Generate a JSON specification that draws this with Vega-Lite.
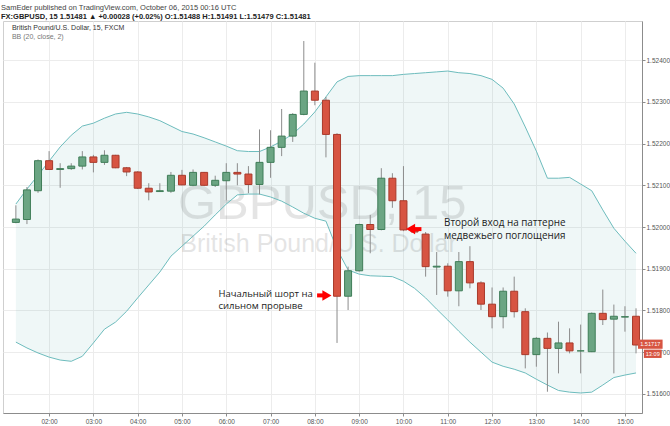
{
  "$schema": "https://vega.github.io/schema/vega-lite/v6.json",
  "width": 639,
  "height": 392,
  "autosize": {"type": "none"},
  "padding": {"left": 3, "top": 21, "right": 28, "bottom": 13},
  "background": "white",
  "title": {
    "text": "SamEder published on TradingView.com, October 06, 2015 00:16 UTC",
    "subtitle": "FX:GBPUSD, 15  1.51481 ▲ +0.00028 (+0.02%)  O:1.51488  H:1.51491  L:1.51479  C:1.51481",
    "anchor": "start",
    "frame": "group",
    "font": "Liberation Sans",
    "fontSize": 7.5,
    "fontWeight": "normal",
    "color": "#444444",
    "subtitleFont": "Liberation Sans",
    "subtitleFontSize": 7.5,
    "subtitleFontWeight": "bold",
    "subtitleColor": "#222222",
    "subtitlePadding": 1,
    "offset": 1,
    "dx": -2
  },
  "config": {
    "view": {"stroke": "#cfcfcf"},
    "font": "Liberation Sans"
  },
  "datasets": {
    "candles": [
      {"t": "2015-10-06T01:15:00Z", "o": 1.52011, "h": 1.52052, "l": 1.52009, "c": 1.52019, "up": 1.52055, "lo": 1.51724},
      {"t": "2015-10-06T01:30:00Z", "o": 1.52018, "h": 1.52096, "l": 1.52007, "c": 1.52089, "up": 1.52091, "lo": 1.51710},
      {"t": "2015-10-06T01:45:00Z", "o": 1.52087, "h": 1.52162, "l": 1.52082, "c": 1.52159, "up": 1.52124, "lo": 1.51698},
      {"t": "2015-10-06T02:00:00Z", "o": 1.52159, "h": 1.52182, "l": 1.52137, "c": 1.52138, "up": 1.52158, "lo": 1.51688},
      {"t": "2015-10-06T02:15:00Z", "o": 1.52138, "h": 1.52153, "l": 1.52094, "c": 1.52140, "up": 1.52192, "lo": 1.51681},
      {"t": "2015-10-06T02:30:00Z", "o": 1.52140, "h": 1.52153, "l": 1.52137, "c": 1.52146, "up": 1.52220, "lo": 1.51678},
      {"t": "2015-10-06T02:45:00Z", "o": 1.52146, "h": 1.52182, "l": 1.52138, "c": 1.52168, "up": 1.52242, "lo": 1.51690},
      {"t": "2015-10-06T03:00:00Z", "o": 1.52168, "h": 1.52173, "l": 1.52131, "c": 1.52155, "up": 1.52249, "lo": 1.51722},
      {"t": "2015-10-06T03:15:00Z", "o": 1.52155, "h": 1.52184, "l": 1.52149, "c": 1.52172, "up": 1.52261, "lo": 1.51755},
      {"t": "2015-10-06T03:30:00Z", "o": 1.52172, "h": 1.52173, "l": 1.52141, "c": 1.52142, "up": 1.52271, "lo": 1.51772},
      {"t": "2015-10-06T03:45:00Z", "o": 1.52142, "h": 1.52144, "l": 1.52122, "c": 1.52132, "up": 1.52275, "lo": 1.51798},
      {"t": "2015-10-06T04:00:00Z", "o": 1.52132, "h": 1.52134, "l": 1.52091, "c": 1.52093, "up": 1.52271, "lo": 1.51830},
      {"t": "2015-10-06T04:15:00Z", "o": 1.52093, "h": 1.52105, "l": 1.52064, "c": 1.52084, "up": 1.52264, "lo": 1.51861},
      {"t": "2015-10-06T04:30:00Z", "o": 1.52085, "h": 1.52105, "l": 1.52084, "c": 1.52087, "up": 1.52255, "lo": 1.51892},
      {"t": "2015-10-06T04:45:00Z", "o": 1.52086, "h": 1.52132, "l": 1.52082, "c": 1.52124, "up": 1.52242, "lo": 1.51930},
      {"t": "2015-10-06T05:00:00Z", "o": 1.52124, "h": 1.52137, "l": 1.52100, "c": 1.52101, "up": 1.52229, "lo": 1.51954},
      {"t": "2015-10-06T05:15:00Z", "o": 1.52100, "h": 1.52138, "l": 1.52098, "c": 1.52131, "up": 1.52223, "lo": 1.51978},
      {"t": "2015-10-06T05:30:00Z", "o": 1.52131, "h": 1.52132, "l": 1.52098, "c": 1.52100, "up": 1.52214, "lo": 1.52002},
      {"t": "2015-10-06T05:45:00Z", "o": 1.52100, "h": 1.52123, "l": 1.52096, "c": 1.52112, "up": 1.52204, "lo": 1.52029},
      {"t": "2015-10-06T06:00:00Z", "o": 1.52111, "h": 1.52153, "l": 1.52064, "c": 1.52131, "up": 1.52194, "lo": 1.52055},
      {"t": "2015-10-06T06:15:00Z", "o": 1.52131, "h": 1.52153, "l": 1.52100, "c": 1.52127, "up": 1.52183, "lo": 1.52077},
      {"t": "2015-10-06T06:30:00Z", "o": 1.52127, "h": 1.52146, "l": 1.52081, "c": 1.52102, "up": 1.52181, "lo": 1.52079},
      {"t": "2015-10-06T06:45:00Z", "o": 1.52102, "h": 1.52234, "l": 1.52078, "c": 1.52155, "up": 1.52181, "lo": 1.52079},
      {"t": "2015-10-06T07:00:00Z", "o": 1.52155, "h": 1.52232, "l": 1.52118, "c": 1.52191, "up": 1.52192, "lo": 1.52072},
      {"t": "2015-10-06T07:15:00Z", "o": 1.52191, "h": 1.52283, "l": 1.52170, "c": 1.52218, "up": 1.52206, "lo": 1.52062},
      {"t": "2015-10-06T07:30:00Z", "o": 1.52218, "h": 1.52273, "l": 1.52204, "c": 1.52270, "up": 1.52223, "lo": 1.52048},
      {"t": "2015-10-06T07:45:00Z", "o": 1.52270, "h": 1.52446, "l": 1.52268, "c": 1.52326, "up": 1.52247, "lo": 1.52033},
      {"t": "2015-10-06T08:00:00Z", "o": 1.52326, "h": 1.52394, "l": 1.52292, "c": 1.52304, "up": 1.52276, "lo": 1.52021},
      {"t": "2015-10-06T08:15:00Z", "o": 1.52304, "h": 1.52312, "l": 1.52167, "c": 1.52222, "up": 1.52312, "lo": 1.52014},
      {"t": "2015-10-06T08:30:00Z", "o": 1.52222, "h": 1.52225, "l": 1.51722, "c": 1.51834, "up": 1.52348, "lo": 1.51947},
      {"t": "2015-10-06T08:45:00Z", "o": 1.51834, "h": 1.51905, "l": 1.51801, "c": 1.51895, "up": 1.52361, "lo": 1.51897},
      {"t": "2015-10-06T09:00:00Z", "o": 1.51895, "h": 1.52008, "l": 1.51893, "c": 1.52006, "up": 1.52363, "lo": 1.51887},
      {"t": "2015-10-06T09:15:00Z", "o": 1.52006, "h": 1.52029, "l": 1.51937, "c": 1.51994, "up": 1.52363, "lo": 1.51883},
      {"t": "2015-10-06T09:30:00Z", "o": 1.51994, "h": 1.52141, "l": 1.51992, "c": 1.52117, "up": 1.52363, "lo": 1.51882},
      {"t": "2015-10-06T09:45:00Z", "o": 1.52117, "h": 1.52129, "l": 1.52046, "c": 1.52063, "up": 1.52363, "lo": 1.51881},
      {"t": "2015-10-06T10:00:00Z", "o": 1.52063, "h": 1.52146, "l": 1.51990, "c": 1.51993, "up": 1.52366, "lo": 1.51870},
      {"t": "2015-10-06T10:15:00Z", "o": 1.51993, "h": 1.51997, "l": 1.51983, "c": 1.51988, "up": 1.52368, "lo": 1.51853},
      {"t": "2015-10-06T10:30:00Z", "o": 1.51983, "h": 1.51988, "l": 1.51881, "c": 1.51905, "up": 1.52370, "lo": 1.51830},
      {"t": "2015-10-06T10:45:00Z", "o": 1.51904, "h": 1.51940, "l": 1.51837, "c": 1.51906, "up": 1.52372, "lo": 1.51803},
      {"t": "2015-10-06T11:00:00Z", "o": 1.51906, "h": 1.51913, "l": 1.51833, "c": 1.51847, "up": 1.52374, "lo": 1.51777},
      {"t": "2015-10-06T11:15:00Z", "o": 1.51847, "h": 1.51940, "l": 1.51810, "c": 1.51917, "up": 1.52370, "lo": 1.51750},
      {"t": "2015-10-06T11:30:00Z", "o": 1.51917, "h": 1.51954, "l": 1.51853, "c": 1.51866, "up": 1.52368, "lo": 1.51724},
      {"t": "2015-10-06T11:45:00Z", "o": 1.51866, "h": 1.51870, "l": 1.51801, "c": 1.51815, "up": 1.52363, "lo": 1.51700},
      {"t": "2015-10-06T12:00:00Z", "o": 1.51815, "h": 1.51855, "l": 1.51757, "c": 1.51785, "up": 1.52354, "lo": 1.51676},
      {"t": "2015-10-06T12:15:00Z", "o": 1.51785, "h": 1.51855, "l": 1.51757, "c": 1.51846, "up": 1.52333, "lo": 1.51666},
      {"t": "2015-10-06T12:30:00Z", "o": 1.51846, "h": 1.51881, "l": 1.51783, "c": 1.51797, "up": 1.52295, "lo": 1.51659},
      {"t": "2015-10-06T12:45:00Z", "o": 1.51797, "h": 1.51805, "l": 1.51661, "c": 1.51694, "up": 1.52240, "lo": 1.51650},
      {"t": "2015-10-06T13:00:00Z", "o": 1.51694, "h": 1.51736, "l": 1.51665, "c": 1.51733, "up": 1.52182, "lo": 1.51635},
      {"t": "2015-10-06T13:15:00Z", "o": 1.51733, "h": 1.51747, "l": 1.51605, "c": 1.51709, "up": 1.52117, "lo": 1.51621},
      {"t": "2015-10-06T13:30:00Z", "o": 1.51709, "h": 1.51773, "l": 1.51649, "c": 1.51722, "up": 1.52117, "lo": 1.51608},
      {"t": "2015-10-06T13:45:00Z", "o": 1.51722, "h": 1.51757, "l": 1.51697, "c": 1.51703, "up": 1.52119, "lo": 1.51604},
      {"t": "2015-10-06T14:00:00Z", "o": 1.51703, "h": 1.51766, "l": 1.51649, "c": 1.51703, "up": 1.52103, "lo": 1.51602},
      {"t": "2015-10-06T14:15:00Z", "o": 1.51701, "h": 1.51795, "l": 1.51700, "c": 1.51793, "up": 1.52087, "lo": 1.51604},
      {"t": "2015-10-06T14:30:00Z", "o": 1.51793, "h": 1.51850, "l": 1.51765, "c": 1.51778, "up": 1.52041, "lo": 1.51621},
      {"t": "2015-10-06T14:45:00Z", "o": 1.51779, "h": 1.51814, "l": 1.51649, "c": 1.51786, "up": 1.51997, "lo": 1.51639},
      {"t": "2015-10-06T15:00:00Z", "o": 1.51784, "h": 1.51810, "l": 1.51749, "c": 1.51785, "up": 1.51966, "lo": 1.51645},
      {"t": "2015-10-06T15:15:00Z", "o": 1.51786, "h": 1.51805, "l": 1.51697, "c": 1.51717, "up": 1.51937, "lo": 1.51650}
    ]
  },
  "layer": [
    {
      "data": {"name": "candles"},
      "mark": {"type": "area", "color": "#198787", "opacity": 0.07},
      "encoding": {
        "x": {
          "field": "t", "type": "temporal", "title": null,
          "scale": {"type": "utc", "nice": false, "domain": [
            {"year": 2015, "month": 10, "date": 6, "hours": 1, "minutes": 4, "seconds": 20, "utc": true},
            {"year": 2015, "month": 10, "date": 6, "hours": 15, "minutes": 16, "seconds": 20, "utc": true}
          ]},
          "axis": {
            "title": null, "format": "%H:%M",
            "values": [
              {"year": 2015, "month": 10, "date": 6, "hours": 2, "utc": true},
              {"year": 2015, "month": 10, "date": 6, "hours": 3, "utc": true},
              {"year": 2015, "month": 10, "date": 6, "hours": 4, "utc": true},
              {"year": 2015, "month": 10, "date": 6, "hours": 5, "utc": true},
              {"year": 2015, "month": 10, "date": 6, "hours": 6, "utc": true},
              {"year": 2015, "month": 10, "date": 6, "hours": 7, "utc": true},
              {"year": 2015, "month": 10, "date": 6, "hours": 8, "utc": true},
              {"year": 2015, "month": 10, "date": 6, "hours": 9, "utc": true},
              {"year": 2015, "month": 10, "date": 6, "hours": 10, "utc": true},
              {"year": 2015, "month": 10, "date": 6, "hours": 11, "utc": true},
              {"year": 2015, "month": 10, "date": 6, "hours": 12, "utc": true},
              {"year": 2015, "month": 10, "date": 6, "hours": 13, "utc": true},
              {"year": 2015, "month": 10, "date": 6, "hours": 14, "utc": true},
              {"year": 2015, "month": 10, "date": 6, "hours": 15, "utc": true}
            ],
            "grid": true, "gridColor": "#ececec", "domainColor": "#8c8c8c", "tickColor": "#8c8c8c",
            "tickSize": 3, "labelFontSize": 6.5, "labelColor": "#555555", "labelPadding": 2, "labelFlush": false
          }
        },
        "y": {
          "field": "up", "type": "quantitative", "title": null,
          "scale": {"domain": [1.51554, 1.52494], "zero": false, "nice": false},
          "axis": {
            "orient": "right", "title": null,
            "values": [1.516, 1.5165, 1.517, 1.5175, 1.518, 1.5185, 1.519, 1.5195, 1.52, 1.5205, 1.521, 1.5215, 1.522, 1.5225, 1.523, 1.5235, 1.524, 1.5245],
            "format": ".5f", "grid": true, "gridColor": "#ececec", "domainColor": "#8c8c8c", "tickColor": "#8c8c8c",
            "tickSize": 3, "labelFontSize": 6.5, "labelColor": "#555555", "labelPadding": 1
          }
        },
        "y2": {"field": "lo"}
      }
    },
    {
      "data": {"values": [{"t": "2015-10-06T08:10:00Z", "p": 1.52055, "txt": "GBPUSD, 15"}]},
      "mark": {"type": "text", "fontSize": 49, "color": "#000000", "opacity": 0.1, "align": "center", "baseline": "middle", "font": "Liberation Sans"},
      "encoding": {
        "x": {"field": "t", "type": "temporal", "title": null},
        "y": {"field": "p", "type": "quantitative", "title": null},
        "text": {"field": "txt"}
      }
    },
    {
      "data": {"values": [{"t": "2015-10-06T08:05:00Z", "p": 1.51959, "txt": "British Pound/U.S. Dollar"}]},
      "mark": {"type": "text", "fontSize": 25, "color": "#000000", "opacity": 0.1, "align": "center", "baseline": "middle", "font": "Liberation Sans"},
      "encoding": {
        "x": {"field": "t", "type": "temporal", "title": null},
        "y": {"field": "p", "type": "quantitative", "title": null},
        "text": {"field": "txt"}
      }
    },
    {
      "data": {"name": "candles"},
      "mark": {"type": "line", "color": "#6dbcbd", "strokeWidth": 1},
      "encoding": {
        "x": {"field": "t", "type": "temporal", "title": null},
        "y": {"field": "up", "type": "quantitative", "title": null}
      }
    },
    {
      "data": {"name": "candles"},
      "mark": {"type": "line", "color": "#6dbcbd", "strokeWidth": 1},
      "encoding": {
        "x": {"field": "t", "type": "temporal", "title": null},
        "y": {"field": "lo", "type": "quantitative", "title": null}
      }
    },
    {
      "data": {"name": "candles"},
      "mark": {"type": "rule", "color": "#8c8c8c", "strokeWidth": 1},
      "encoding": {
        "x": {"field": "t", "type": "temporal", "title": null},
        "y": {"field": "l", "type": "quantitative", "title": null},
        "y2": {"field": "h"}
      }
    },
    {
      "data": {"name": "candles"},
      "mark": {"type": "bar", "size": 7, "strokeWidth": 1},
      "encoding": {
        "x": {"field": "t", "type": "temporal", "title": null},
        "y": {"field": "o", "type": "quantitative", "title": null},
        "y2": {"field": "c"},
        "fill": {"condition": {"test": "datum.c >= datum.o", "value": "#6ba583"}, "value": "#d75442"},
        "stroke": {"condition": {"test": "datum.c >= datum.o", "value": "#3f7d58"}, "value": "#a83a2b"}
      }
    },
    {
      "data": {"values": [{"t": "2015-10-06T01:09:40Z", "p": 1.52477, "txt": "British Pound/U.S. Dollar, 15, FXCM"}]},
      "mark": {"type": "text", "fontSize": 7, "color": "#333333", "align": "left", "baseline": "middle"},
      "encoding": {
        "x": {"field": "t", "type": "temporal", "title": null},
        "y": {"field": "p", "type": "quantitative", "title": null},
        "text": {"field": "txt"}
      }
    },
    {
      "data": {"values": [{"t": "2015-10-06T01:09:40Z", "p": 1.52456, "txt": "BB (20, close, 2)"}]},
      "mark": {"type": "text", "fontSize": 7, "color": "#777777", "align": "left", "baseline": "middle"},
      "encoding": {
        "x": {"field": "t", "type": "temporal", "title": null},
        "y": {"field": "p", "type": "quantitative", "title": null},
        "text": {"field": "txt"}
      }
    },
    {
      "data": {"values": [
        {"t": "2015-10-06T05:49:20Z", "p": 1.51840, "txt": "Начальный шорт на"},
        {"t": "2015-10-06T05:49:20Z", "p": 1.51811, "txt": "сильном прорыве"}
      ]},
      "mark": {"type": "text", "fontSize": 9.5, "color": "#222222", "align": "left", "baseline": "middle", "font": "Open Sans"},
      "encoding": {
        "x": {"field": "t", "type": "temporal", "title": null},
        "y": {"field": "p", "type": "quantitative", "title": null},
        "text": {"field": "txt"}
      }
    },
    {
      "data": {"values": [
        {"t": "2015-10-06T10:55:00Z", "p": 1.52009, "txt": "Второй вход на паттерне"},
        {"t": "2015-10-06T10:55:00Z", "p": 1.51979, "txt": "медвежьего поглощения"}
      ]},
      "mark": {"type": "text", "fontSize": 9.9, "color": "#222222", "align": "left", "baseline": "middle", "font": "Open Sans"},
      "encoding": {
        "x": {"field": "t", "type": "temporal", "title": null},
        "y": {"field": "p", "type": "quantitative", "title": null},
        "text": {"field": "txt"}
      }
    },
    {
      "data": {"values": [
        {"t1": "2015-10-06T08:03:00Z", "t2": "2015-10-06T08:14:00Z", "p": 1.51836},
        {"t1": "2015-10-06T10:12:00Z", "t2": "2015-10-06T10:24:20Z", "p": 1.51995}
      ]},
      "mark": {"type": "rule", "color": "#ff0000", "strokeWidth": 4},
      "encoding": {
        "x": {"field": "t1", "type": "temporal", "title": null},
        "x2": {"field": "t2"},
        "y": {"field": "p", "type": "quantitative", "title": null}
      }
    },
    {
      "data": {"values": [{"t": "2015-10-06T08:16:20Z", "p": 1.51836}]},
      "mark": {"type": "point", "shape": "triangle-right", "filled": true, "color": "#ff0000", "opacity": 1, "size": 110},
      "encoding": {
        "x": {"field": "t", "type": "temporal", "title": null},
        "y": {"field": "p", "type": "quantitative", "title": null}
      }
    },
    {
      "data": {"values": [{"t": "2015-10-06T10:09:40Z", "p": 1.51995}]},
      "mark": {"type": "point", "shape": "triangle-left", "filled": true, "color": "#ff0000", "opacity": 1, "size": 110},
      "encoding": {
        "x": {"field": "t", "type": "temporal", "title": null},
        "y": {"field": "p", "type": "quantitative", "title": null}
      }
    },
    {
      "data": {"values": [
        {"t1": "2015-10-06T15:17:40Z", "t2": "2015-10-06T15:51:00Z", "p1": 1.51730, "p2": 1.51708},
        {"t1": "2015-10-06T15:25:40Z", "t2": "2015-10-06T15:49:40Z", "p1": 1.51706, "p2": 1.51686}
      ]},
      "mark": {"type": "rect", "color": "#d75442"},
      "encoding": {
        "x": {"field": "t1", "type": "temporal", "title": null},
        "x2": {"field": "t2"},
        "y": {"field": "p1", "type": "quantitative", "title": null},
        "y2": {"field": "p2"}
      }
    },
    {
      "data": {"values": [
        {"t": "2015-10-06T15:34:20Z", "p": 1.51719, "txt": "1.51717"},
        {"t": "2015-10-06T15:37:40Z", "p": 1.51696, "txt": "13:09"}
      ]},
      "mark": {"type": "text", "fontSize": 5.6, "color": "#ffffff", "align": "center", "baseline": "middle"},
      "encoding": {
        "x": {"field": "t", "type": "temporal", "title": null},
        "y": {"field": "p", "type": "quantitative", "title": null},
        "text": {"field": "txt"}
      }
    }
  ]
}
